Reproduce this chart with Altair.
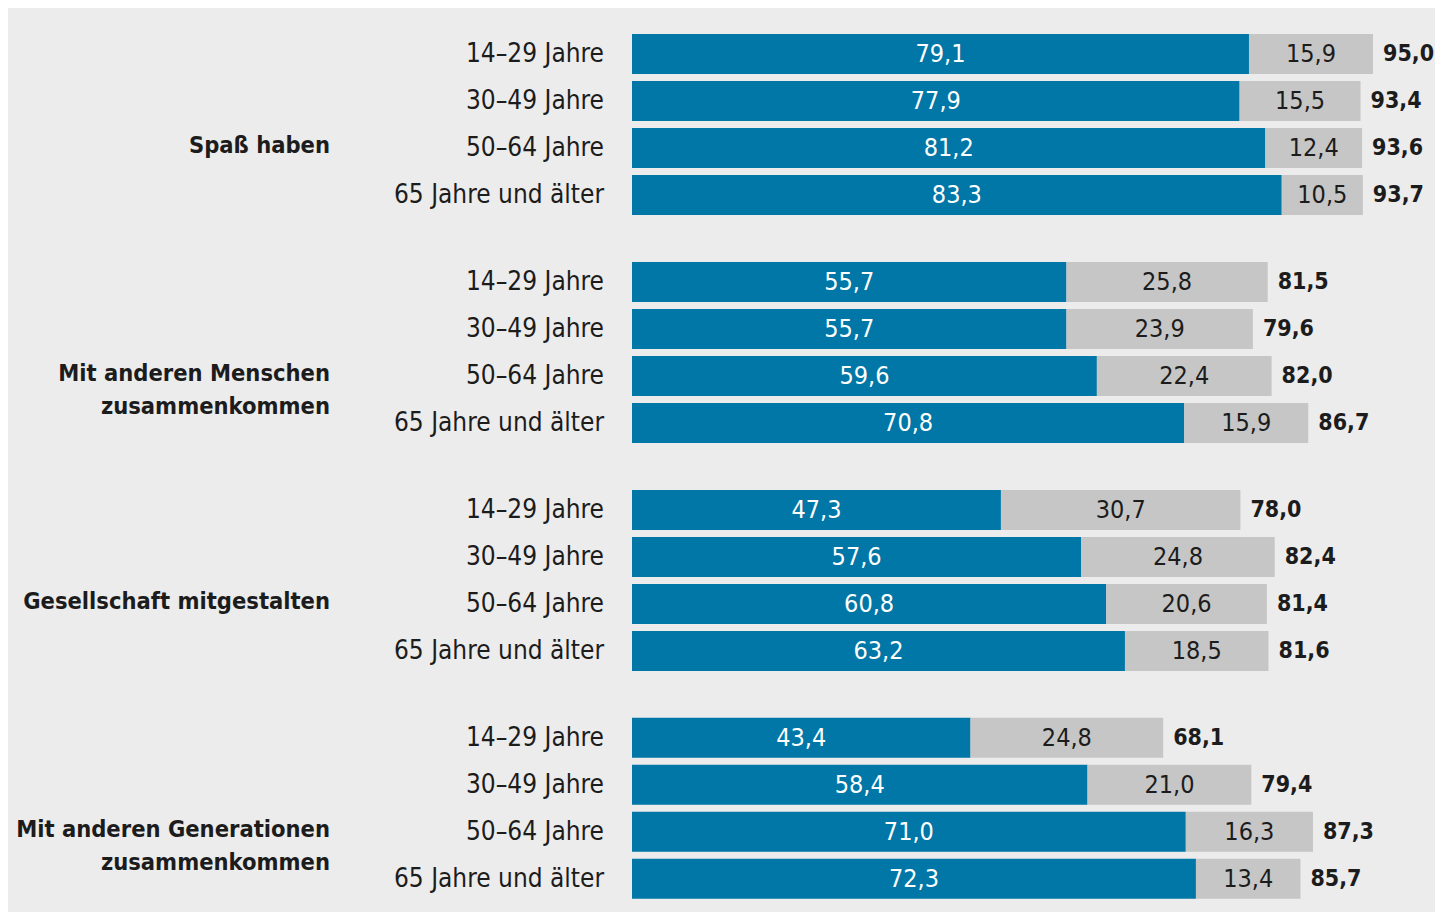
import altair as alt
import pandas as pd

groups = ["Spaß haben", "Mit anderen Menschen\nzusammenkommen",
          "Gesellschaft mitgestalten", "Mit anderen Generationen\nzusammenkommen"]
ages = ["14–29 Jahre", "30–49 Jahre", "50–64 Jahre", "65 Jahre und älter"]
blue = [79.1, 77.9, 81.2, 83.3, 55.7, 55.7, 59.6, 70.8,
        47.3, 57.6, 60.8, 63.2, 43.4, 58.4, 71.0, 72.3]
gray = [15.9, 15.5, 12.4, 10.5, 25.8, 23.9, 22.4, 15.9,
        30.7, 24.8, 20.6, 18.5, 24.8, 21.0, 16.3, 13.4]
total = [95.0, 93.4, 93.6, 93.7, 81.5, 79.6, 82.0, 86.7,
         78.0, 82.4, 81.4, 81.6, 68.1, 79.4, 87.3, 85.7]

GROUP_PITCH = 4.85
FONT = "'Liberation Sans Narrow', 'DejaVu Sans Condensed', 'Arial Narrow', sans-serif"
BLUE = "#0077a6"
GRAY = "#c6c6c6"
BG = "#ececec"
TXT = "#1c1c1c"


def de(v):
    return f"{v:.1f}".replace(".", ",")


rows = []
for i in range(16):
    g, a = divmod(i, 4)
    rows.append(dict(
        age=ages[a], pos=g * GROUP_PITCH + a,
        blue=blue[i], gray=gray[i], total=total[i],
        blue_mid=blue[i] / 2, gray_mid=(blue[i] + total[i]) / 2,
        blue_lbl=de(blue[i]), gray_lbl=de(gray[i]), total_lbl=de(total[i]),
    ))
df = pd.DataFrame(rows)

gdf = pd.DataFrame([
    dict(label=groups[g].split("\n"), pos=g * GROUP_PITCH + 1.95)
    for g in range(4)
])

W, H = 1427, 904
xs = alt.Scale(domain=[-80, (W - 624) / 7.8], nice=False, zero=False, padding=0)
ys = alt.Scale(domain=[-0.979, 18.255], nice=False, zero=False, reverse=True, padding=0)
Y = alt.Y("pos:Q", scale=ys, axis=None)

base = alt.Chart(df)

bar_blue = base.mark_bar(orient="horizontal", size=40, color=BLUE).encode(
    x=alt.X("zero:Q", scale=xs, axis=None), x2="blue:Q", y=Y
).transform_calculate(zero="0")

bar_gray = base.mark_bar(orient="horizontal", size=40, color=GRAY).encode(
    x=alt.X("blue:Q", scale=xs, axis=None), x2="total:Q", y=Y
)

txt_blue = base.mark_text(font=FONT, fontSize=25, color="white", align="center",
                          baseline="middle").encode(
    x=alt.X("blue_mid:Q", scale=xs, axis=None), y=Y, text="blue_lbl:N")

txt_gray = base.mark_text(font=FONT, fontSize=25, color=TXT, align="center",
                          baseline="middle").encode(
    x=alt.X("gray_mid:Q", scale=xs, axis=None), y=Y, text="gray_lbl:N")

txt_total = base.mark_text(font=FONT, fontSize=23, fontWeight="bold", color=TXT,
                           align="left", baseline="middle", dx=10).encode(
    x=alt.X("total:Q", scale=xs, axis=None), y=Y, text="total_lbl:N")

txt_age = base.mark_text(font=FONT, fontSize=26, color=TXT, align="right",
                         baseline="middle", dx=-28).encode(
    x=alt.datum(0, scale=xs), y=Y, text="age:N")

txt_group = alt.Chart(gdf).mark_text(font=FONT, fontSize=23.5, fontWeight="bold",
                                     color=TXT, align="right", baseline="middle",
                                     dx=-302, lineHeight=33).encode(
    x=alt.datum(0, scale=xs), y=Y, text="label")

chart = alt.layer(bar_blue, bar_gray, txt_blue, txt_gray, txt_total, txt_age,
                  txt_group).properties(
    width=W, height=H,
    autosize=alt.AutoSizeParams(type="none"), padding=0,
).configure(background=BG).configure_view(stroke=None)

chart.save("out.html", embed_options={"renderer": "svg", "actions": False})
